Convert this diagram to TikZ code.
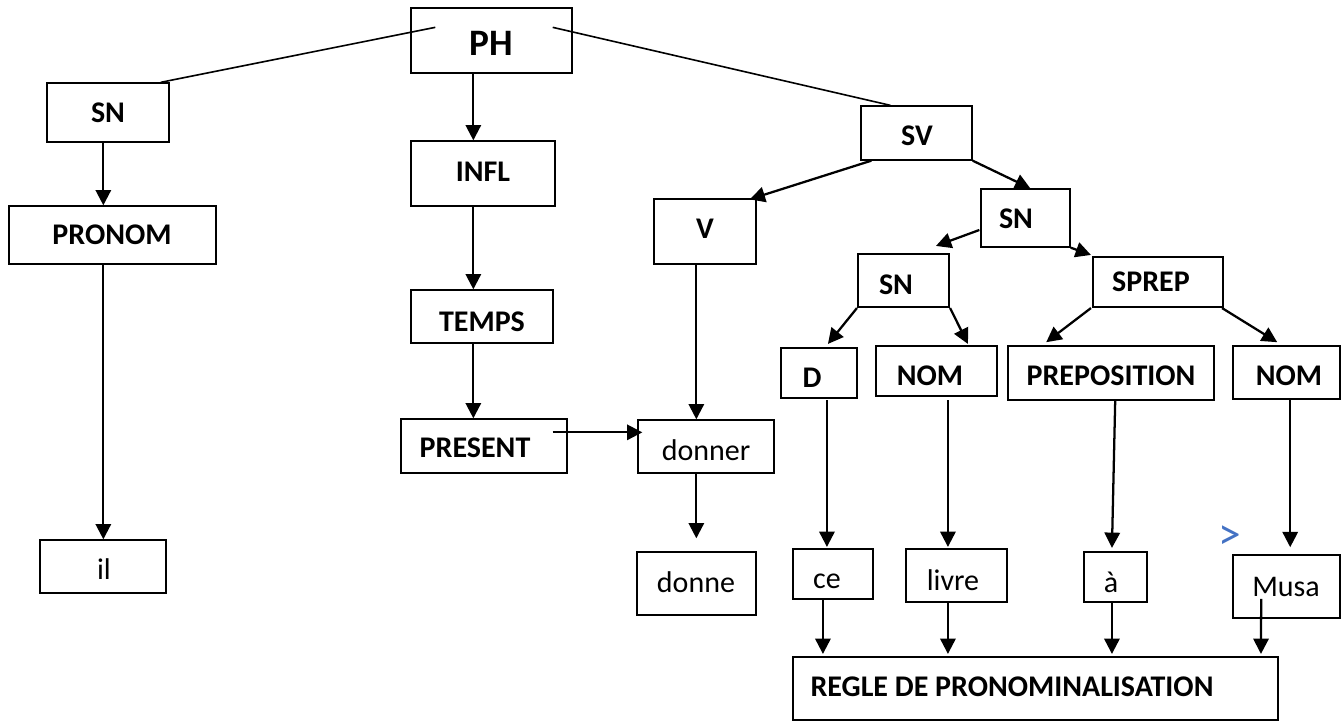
\documentclass[tikz,border=0pt]{standalone}
\usepackage{fontspec}
\setmainfont{Carlito}
\usetikzlibrary{arrows.meta,calc,fit}
\definecolor{chevblue}{RGB}{68,114,196}
\begin{document}
\begin{tikzpicture}[x=0.75pt,y=-0.75pt,
  box/.style={draw, line width=1pt, inner sep=0pt, rectangle},
  tbox/.style={box, line width=1.6pt},
  lbl/.style={font=\fontsize{22.5}{22.5}\selectfont\bfseries, inner sep=0pt},
  wrd/.style={font=\fontsize{22.5}{22.5}\selectfont, inner sep=0pt},
  arr/.style={line width=1.7pt, -{Triangle[length=11.5pt,width=11.5pt]}},
  plain/.style={line width=1.2pt}]
\useasboundingbox (0,0) rectangle (1342,721);
% boxes
\node[box, fit={(411,8)(572,73)}] (ph) {};
\node[box, fit={(47,83)(169,142)}] (sn1) {};
\node[box, fit={(9,206)(216,264)}] (pronom) {};
\node[box, fit={(411,141)(555,206)}] (infl) {};
\node[box, fit={(411,290)(553,343)}] (temps) {};
\node[box, fit={(401,419)(567,473)}] (present) {};
\node[box, fit={(40,540)(166,593)}] (il) {};
\node[box, fit={(861,106)(972,160)}] (sv) {};
\node[box, fit={(654,199)(756,264)}] (v) {};
\node[box, fit={(981,189)(1070,247)}] (sn2) {};
\node[tbox, fit={(858,254)(949,307)}] (sn3) {};
\node[tbox, fit={(1093,257)(1223,307)}] (sprep) {};
\node[tbox, fit={(781,348)(857,398)}] (d) {};
\node[tbox, fit={(876,346)(997,396)}] (nom1) {};
\node[box, line width=1.2pt, fit={(1008,346)(1214,400)}] (prep) {};
\node[box, line width=1.2pt, fit={(1233,346)(1340,399)}] (nom2) {};
\node[box, fit={(638,420)(774,473)}] (donner) {};
\node[box, fit={(637,552)(756,615)}] (donne) {};
\node[tbox, fit={(793,549)(873,599)}] (ce) {};
\node[tbox, fit={(906,549)(1007,602)}] (livre) {};
\node[tbox, fit={(1084,552)(1147,602)}] (a) {};
\node[box, line width=1.2pt, fit={(1233,555)(1340,618)}] (musa) {};
\node[tbox, fit={(793,657)(1278,720)}] (regle) {};
% texts
\node[lbl, font=\fontsize{28}{28}\selectfont\bfseries] (phT) at (491,43) {PH};
\node[lbl] (sn1T) at (108,113) {SN};
\node[lbl] (pronomT) at (112,235) {PRONOM};
\node[lbl] (inflT) at (483,172) {INFL};
\node[lbl] (tempsT) at (482,322) {TEMPS};
\node[lbl] (presentT) at (475,448) {PRESENT};
\node[wrd] (ilT) at (104,569) {il};
\node[lbl] (svT) at (917,136) {SV};
\node[lbl] (vT) at (705,229) {V};
\node[lbl] (sn2T) at (1016,219) {SN};
\node[lbl] (sn3T) at (896,285) {SN};
\node[lbl] (sprepT) at (1151,282) {SPREP};
\node[lbl] (dT) at (812,378) {D};
\node[lbl] (nom1T) at (930,376) {NOM};
\node[lbl] (prepT) at (1111,376) {PREPOSITION};
\node[lbl] (nom2T) at (1289,376) {NOM};
\node[wrd] (donnerT) at (706,450) {donner};
\node[wrd] (donneT) at (696,582) {donne};
\node[wrd] (ceT) at (827,581) {ce};
\node[wrd] (livreT) at (953,580) {livre};
\node[wrd] (aT) at (1111,582) {à};
\node[wrd] (musaT) at (1286,587) {Musa};
\node[lbl] (regleT) at (1012,687) {REGLE DE PRONOMINALISATION};
\node[font=\fontsize{34}{34}\selectfont, text=chevblue, inner sep=0pt] (chev) at (1230,538) {>};
% connectors
\draw[plain] ($(ph.north west)+(25,20)$) -- ($(sn1.north east)+(-9,0)$);
\draw[plain] ($(ph.north east)+(-20,20)$) -- ($(sv.north west)+(30,0)$);
\draw[arr] ($(ph.south west)+(63,0)$) -- ($(infl.north west)+(63,0)$);
\draw[arr] ($(sn1.south west)+(57,0)$) -- ($(pronom.north west)+(95,0)$);
\draw[arr] ($(pronom.south west)+(95,0)$) -- ($(il.north west)+(64,0)$);
\draw[arr] ($(infl.south west)+(63,0)$) -- ($(temps.north west)+(63,0)$);
\draw[arr] ($(temps.south west)+(63,0)$) -- ($(present.north west)+(73,0)$);
\draw[arr] ($(present.north east)+(-15,14)$) -- ($(donner.north west)+(5,13)$);
\draw[arr] ($(sv.south west)+(11,0)$) -- ($(v.north east)+(-7,1)$);
\draw[arr] ($(v.south west)+(43,0)$) -- ($(donner.north west)+(59,0)$);
\draw[arr] ($(donner.south west)+(59,0)$) -- ($(donne.north west)+(60,-13)$);
\draw[arr] (sv.south east) -- ($(sn2.north west)+(50,0)$);
\draw[arr] ($(sn2.west)+(-1,12)$) -- ($(sn3.north west)+(79,-7)$);
\draw[arr] (sn2.south east) -- ($(sprep.north west)+(-1,-1)$);
\draw[arr] (sn3.south west) -- ($(d.north west)+(48,-3)$);
\draw[arr] (sn3.south east) -- ($(nom1.north west)+(93,-1)$);
\draw[arr] ($(sprep.south west)+(-1,0)$) -- ($(prep.north west)+(39,-3)$);
\draw[arr] ($(sprep.south east)+(-2,0)$) -- ($(nom2.north west)+(45,-3)$);
\draw[arr] ($(d.south west)+(47,1)$) -- ($(ce.north west)+(35,-1)$);
\draw[arr] ($(nom1.south west)+(73,3)$) -- ($(livre.north west)+(43,-1)$);
\draw[arr] ($(prep.south west)+(108,0)$) -- ($(a.north west)+(29,-3)$);
\draw[arr] ($(nom2.south west)+(58,0)$) -- ($(musa.north west)+(58,-7)$);
\draw[arr] ($(ce.south west)+(31,0)$) -- ($(regle.north west)+(31,-2)$);
\draw[arr] ($(livre.south west)+(43,0)$) -- ($(regle.north west)+(156,-2)$);
\draw[arr] ($(a.south west)+(29,0)$) -- ($(regle.north west)+(320,-2)$);
\draw[arr] ($(musa.south west)+(29,-20)$) -- ($(regle.north west)+(469,-2)$);
\end{tikzpicture}
\end{document}
